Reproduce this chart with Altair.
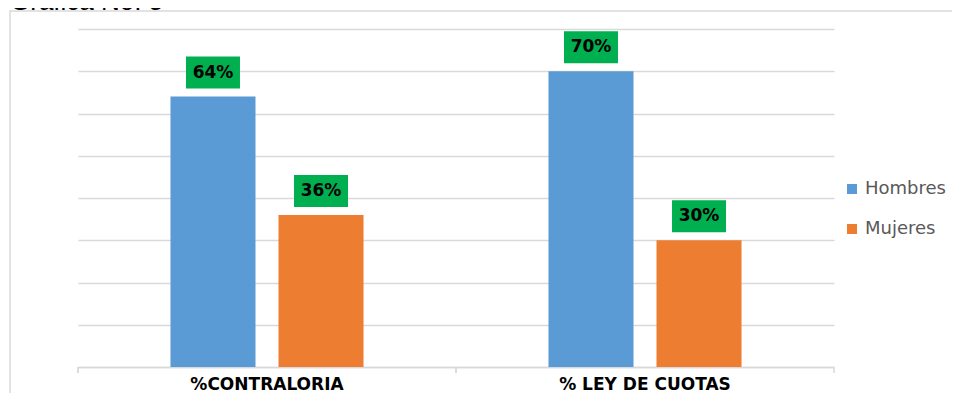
import altair as alt
import pandas as pd

categories = ["%CONTRALORIA", "% LEY DE CUOTAS"]
series = ["Hombres", "Mujeres"]
hombres = [64, 70]
mujeres = [36, 30]
colors = ["#5b9bd5", "#ed7d31"]
grid_values = [0, 10, 20, 30, 40, 50, 60, 70, 80]
title_text = "Gráfica No. 5"

rows = []
for c, h, m in zip(categories, hombres, mujeres):
    rows.append({"cat": c, "serie": "Hombres", "val": h, "lab": f"{h}%"})
    rows.append({"cat": c, "serie": "Mujeres", "val": m, "lab": f"{m}%"})
df = pd.DataFrame(rows)
one = pd.DataFrame({"a": [0]})

W, H = 756, 338
GRAY = "#d9d9d9"

xenc = alt.X(
    "cat:N", sort=categories,
    scale=alt.Scale(paddingInner=0, paddingOuter=0),
    axis=alt.Axis(title=None, ticks=False, labelAngle=0, labelFont="DejaVu Sans",
                  labelFontWeight="bold", labelFontSize=17, labelColor="#000000",
                  labelPadding=9, domainColor=GRAY, domainWidth=1.5, grid=False),
)
xoff = alt.XOffset("serie:N", sort=series,
                   scale=alt.Scale(paddingInner=0.213, paddingOuter=0.856))
yenc = alt.Y(
    "val:Q", scale=alt.Scale(domain=[0, 80], nice=False),
    axis=alt.Axis(title=None, labels=False, ticks=False, domain=False,
                  values=grid_values, grid=True, gridColor=GRAY, gridWidth=1.5),
)

frame = alt.Chart(one).mark_rect(fillOpacity=0, stroke=GRAY, strokeWidth=1.5).encode(
    x=alt.value(-68), x2=alt.value(1000), y=alt.value(-18), y2=alt.value(1000)
)

title = alt.Chart(one).mark_text(
    text=title_text, align="left", baseline="alphabetic", font="Liberation Sans",
    fontSize=26, color="#000000"
).encode(x=alt.value(-68), y=alt.value(-19.5))

bars = alt.Chart(df).mark_bar().encode(
    x=xenc, xOffset=xoff, y=yenc,
    color=alt.Color("serie:N", sort=series,
                    scale=alt.Scale(domain=series, range=colors),
                    legend=alt.Legend(title=None, orient="none", legendX=765, legendY=151,
                                      symbolType="square", symbolSize=100,
                                      labelFont="DejaVu Sans", labelFontSize=18,
                                      labelColor="#595959", rowPadding=22,
                                      labelOffset=4, padding=0, symbolStrokeWidth=0)),
)

ticks = alt.Chart(df).mark_rule(color=GRAY, strokeWidth=1.5).encode(
    x=alt.X("cat:N", sort=categories, bandPosition=0),
    y=alt.value(H), y2=alt.value(H + 6),
)
end_tick = alt.Chart(one).mark_rule(color=GRAY, strokeWidth=1.5).encode(
    x=alt.value(W), y=alt.value(H), y2=alt.value(H + 6)
)

boxes = alt.Chart(df).mark_point(
    shape="M-1,-0.593L1,-0.593L1,0.593L-1,0.593Z", size=2916, filled=True,
    fill="#00b050", opacity=1, strokeWidth=0, yOffset=-24
).encode(x=alt.X("cat:N", sort=categories), xOffset=alt.XOffset("serie:N", sort=series), y="val:Q")

labels = alt.Chart(df).mark_text(
    font="DejaVu Sans", fontWeight="bold", fontSize=17, baseline="middle",
    align="center", yOffset=-24, color="#000000"
).encode(x=alt.X("cat:N", sort=categories), xOffset=alt.XOffset("serie:N", sort=series),
         y="val:Q", text="lab:N")

chart = alt.layer(frame, title, bars, ticks, end_tick, boxes, labels).properties(
    width=W, height=H,
    padding={"left": 70, "top": 21, "right": 118, "bottom": 26},
    autosize=alt.AutoSizeParams(type="none"),
).configure_view(strokeWidth=0)

chart.save("out.html", embed_options={"renderer": "svg", "actions": False})
